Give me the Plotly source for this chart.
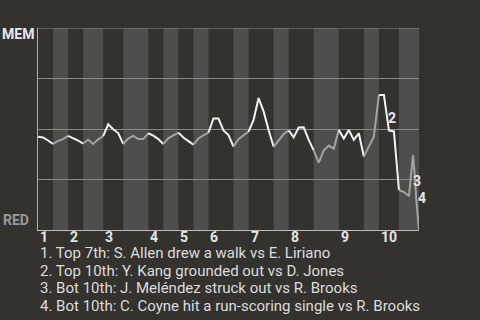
import plotly.graph_objects as go

# Win expectancy (MEM %) by play number
plays = list(range(0, 75)) + [74.8, 75.15, 75.45, 76]
wp = [46.2, 45.8, 44.3, 42.6, 44.1, 45.0, 46.6, 45.5, 44.3, 42.8,
      44.7, 42.6, 44.9, 46.5, 52.3, 49.9, 48.0, 42.6, 45.3, 46.6,
      45.0, 45.0, 47.9, 46.7, 45.0, 42.6, 45.4, 46.8, 48.2, 45.8,
      44.0, 42.3, 45.3, 46.9, 48.2, 55.2, 55.2, 49.3, 47.0, 41.3,
      45.0, 46.9, 48.7, 54.5, 65.3, 58.7, 49.5, 41.2, 44.5, 47.5,
      49.3, 45.9, 50.7, 50.8, 44.6, 39.4, 33.3, 39.4, 41.8, 40.3,
      49.5, 45.3, 49.5, 44.6, 47.9, 36.3, 41.2, 46.3, 66.8, 66.8,
      49.3, 48.8, 19.8, 18.8, 16.8, 37.1, 27.2, 15.3, 0.0]

# play number at which each half-inning starts (last value = end of game)
half_starts = [0, 3, 6, 9, 13, 17, 22, 25, 28, 31, 34, 39, 42, 47, 50, 55, 60, 65, 68, 72, 76]
inning_labels = ["1", "2", "3", "4", "5", "6", "7", "8", "9", "10"]

# key play markers: label, play number of the marked play, WP at label
marker_labels = ["2", "3", "4"]
marker_x = [70.56, 75.54, 76.0]
marker_y = [55.4, 24.3, 15.8]
marker_shift = [0, 0, 3]

notes = [
    "1. Top 7th: S. Allen drew a walk vs E. Liriano",
    "2. Top 10th: Y. Kang grounded out vs D. Jones",
    "3. Bot 10th: J. Meléndez struck out vs R. Brooks",
    "4. Bot 10th: C. Coyne hit a run-scoring single vs R. Brooks",
]
team_top = "MEM"
team_bottom = "RED"

BG = "#34322f"
BAND = "#4f4e4c"
WHITE = "#f2f2f2"
GRAY = "#a3a3a3"
FONT = "Roboto"

fig = go.Figure()

# line segments per half-inning
for h in range(len(half_starts) - 1):
    a, b = half_starts[h], half_starts[h + 1]
    xs = [x for x in plays if a <= x <= b]
    ys = [wp[plays.index(x)] for x in xs]
    fig.add_trace(go.Scatter(
        x=xs, y=ys, mode="lines",
        line=dict(color=WHITE if h % 2 == 0 else GRAY, width=2),
        hoverinfo="skip", showlegend=False,
    ))

shapes = []
for h in range(1, len(half_starts) - 1, 2):
    shapes.append(dict(type="rect", xref="x", yref="paper",
                       x0=half_starts[h], x1=half_starts[h + 1], y0=0, y1=1,
                       fillcolor=BAND, line=dict(width=0), layer="below"))
shapes.append(dict(type="line", xref="paper", yref="y", x0=0, x1=1, y0=100, y1=100,
                   line=dict(color="#8a8986", width=1), layer="below"))

annotations = []
for i, lab in enumerate(inning_labels):
    annotations.append(dict(x=half_starts[2 * i], y=-0.035, xref="x", yref="paper",
                            text=f"<b>{lab}</b>", showarrow=False,
                            xanchor="left", yanchor="middle", xshift=0,
                            font=dict(family=FONT, size=14, color="#e6e6e6")))
for lab, mx, my, sh in zip(marker_labels, marker_x, marker_y, marker_shift):
    annotations.append(dict(x=mx, y=my, xref="x", yref="y", text=f"<b>{lab}</b>",
                            showarrow=False, xanchor="center", yanchor="middle",
                            xshift=sh,
                            font=dict(family=FONT, size=14, color="#e6e6e6")))
for i, t in enumerate(notes):
    annotations.append(dict(x=0, y=-0.114 - i * 0.0875, xref="paper", yref="paper",
                            text=t, showarrow=False, xanchor="left", yanchor="middle",
                            xshift=-0.5,
                            font=dict(family=FONT, size=15, color="#dcdcdc")))
annotations.append(dict(x=0, y=1, xref="paper", yref="paper", text=f"<b>{team_top}</b>",
                        showarrow=False, xanchor="right", yanchor="middle",
                        xshift=-2, yshift=-6,
                        font=dict(family=FONT, size=14, color="#e8e8e8")))
annotations.append(dict(x=0, y=0, xref="paper", yref="paper", text=f"<b>{team_bottom}</b>",
                        showarrow=False, xanchor="right", yanchor="middle",
                        xshift=-7, yshift=10,
                        font=dict(family=FONT, size=14, color="#9a9a9a")))

fig.update_layout(
    width=480, height=320,
    margin=dict(l=38, r=61, t=28, b=90, pad=0),
    paper_bgcolor=BG, plot_bgcolor=BG,
    shapes=shapes, annotations=annotations,
    showlegend=False,
    xaxis=dict(range=[0, 76], showgrid=False, zeroline=False, showticklabels=False,
               showline=True, linecolor="#bdbdbd", linewidth=1, ticks=""),
    yaxis=dict(range=[0, 100], tickvals=[25, 50, 75], showgrid=True,
               gridcolor="#8a8986", gridwidth=1, zeroline=False, showticklabels=False,
               showline=True, linecolor="#b0b0b0", linewidth=1, ticks=""),
)

fig.write_html("out.html")
